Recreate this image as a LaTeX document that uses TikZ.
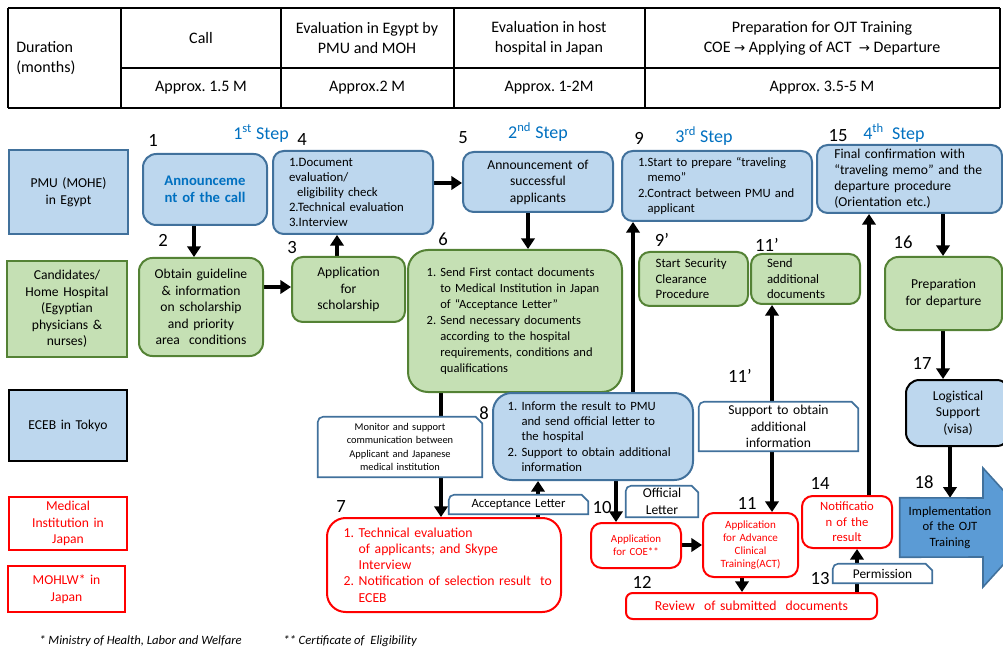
\documentclass[tikz,border=0pt]{standalone}
\usepackage{fontspec}
\setmainfont{Carlito}
\newfontfamily\symfont{DejaVu Sans}
\usetikzlibrary{arrows.meta,calc}
\definecolor{bfill}{HTML}{BDD7EE}
\definecolor{bline}{HTML}{41719C}
\definecolor{gfill}{HTML}{C5E0B4}
\definecolor{gline}{HTML}{548235}
\definecolor{stepblue}{HTML}{0070C0}
\definecolor{ojtblue}{HTML}{5B9BD5}
\pgfdeclarelayer{conn}
\pgfdeclarelayer{tagbg}
\pgfsetlayers{conn,tagbg,main}

% box from pixel corners: [pad]{style}{name}{x1}{y1}{x2}{y2}{text}
\newcommand\bx[8][4]{%
  \pgfmathsetmacro\bxw{(#6-#4)*0.75}%
  \pgfmathsetmacro\bxh{(#7-#5)*0.75}%
  \pgfmathsetmacro\bxt{\bxw-2*#1}%
  \node[#2, inner xsep=#1pt, minimum width=\bxw pt, minimum height=\bxh pt,
        text width=\bxt pt] (#3) at ({(#4+#6)/2},{(#5+#7)/2}) {#8};}

% one unbreakable text line
\newcommand\rl[1]{\mbox{#1}}

% label box with a rounded top-left and a cut top-right corner
\newcommand\tagshape[1]{%
  \draw[tagline] (#1.south west) -- ([yshift=-4pt]#1.north west)
    arc[start angle=180,end angle=90,radius=4pt]
    -- ([xshift=-5pt]#1.north east) -- ([yshift=-5pt]#1.north east)
    -- (#1.south east) -- cycle;}

\newcommand\fs[2]{\fontsize{#1}{#2}\selectfont}

\begin{document}
\frenchspacing
\begin{tikzpicture}[x=0.75pt,y=-0.75pt,
  conn/.style={line width=3pt,-{Triangle[length=8pt,width=10pt]}},
  both/.style={line width=3pt,{Triangle[length=8pt,width=10pt]}-{Triangle[length=8pt,width=10pt]}},
  tline/.style={line width=1pt,draw=black},
  ttext/.style={font=\fs{12}{15}, align=center, inner sep=0pt},
  box/.style={draw, line width=1.5pt, rounded corners=8pt, align=center,
              inner ysep=2pt, font=\fs{10.2}{12.4}},
  bluebox/.style={box, fill=bfill, draw=bline},
  greenbox/.style={box, fill=gfill, draw=gline},
  redbox/.style={box, fill=white, draw=red, text=red},
  lane/.style={draw, line width=1.5pt, align=center, font=\fs{10.2}{12.4}},
  tag/.style={align=center, inner ysep=0pt, font=\fs{9.5}{11}},
  tagline/.style={draw=bline, line width=1.2pt, fill=white},
  numlab/.style={font=\fs{14}{16}, inner sep=0pt},
  steplab/.style={font=\fs{13.5}{15}, text=stepblue, inner sep=0pt},
  foot/.style={font=\fs{9.5}{11}\itshape, inner sep=0pt, anchor=west}]
\useasboundingbox (0,0) rectangle (1003,652);
\clip (0,0) rectangle (1003,652);

% ---------- duration table ----------
\draw[tline] (121,8) -- (121,108) (281,8) -- (281,108) (454,8) -- (454,108)
  (645,8) -- (645,108) (121,68) -- (1000,68) (8,8) -- (8,108) (1000,8) -- (1000,108);
\draw[line width=1.5pt] (8,8) -- (1000,8) (8,108) -- (1000,108);
\node[ttext, align=left, anchor=west] (tdur) at (16,58) {Duration\\(months)};
\node[ttext] (tcall) at (201,38) {Call};
\node[ttext] (tegy) at (367,38) {Evaluation in Egypt by\\PMU and MOH};
\node[ttext] (tjap) at (549,38) {Evaluation in host\\hospital in Japan};
\node[ttext] (tojt) at (822,38) {Preparation for OJT Training\\COE {\symfont\fs{10}{12}→} Applying of ACT~ {\symfont\fs{10}{12}→} Departure};
\node[ttext] (dcall) at (201,88) {Approx. 1.5 M};
\node[ttext] (degy) at (367,88) {Approx.2 M};
\node[ttext] (djap) at (549,88) {Approx. 1-2M};
\node[ttext] (dojt) at (822,88) {Approx. 3.5-5 M};

% ---------- actors ----------
\bx{lane, fill=bfill, draw=bline}{lpmu}{9}{150}{128}{234}{PMU (MOHE)\\in Egypt}
\bx{lane, fill=gfill, draw=gline}{lcand}{7}{261}{127}{357}{Candidates/\\Home Hospital\\(Egyptian\\physicians \&\\nurses)}
\bx{lane, fill=bfill, draw=black, line width=2pt}{leceb}{9}{390}{127}{461}{ECEB in Tokyo}
\bx{lane, fill=white, draw=red, text=red}{lmed}{9}{498}{127}{549}{Medical\\Institution in\\Japan}
\bx{lane, fill=white, draw=red, text=red}{lmoh}{8}{566}{125}{612}{MOHLW* in\\Japan}

% ---------- step headings ----------
\node[steplab] (s1) at (261,133) {1\textsuperscript{st} Step};
\node[steplab] (s2) at (538,132) {2\textsuperscript{nd} Step};
\node[steplab] (s3) at (704,136) {3\textsuperscript{rd} Step};
\node[steplab] (s4) at (894,133) {4\textsuperscript{th}~ Step};

% ---------- process boxes ----------
\bx{bluebox, rounded corners=10pt, font=\fs{11}{12.8}\bfseries, text=stepblue}{n1}{143}{154}{267}{225}{Announceme\\nt of the call}
\bx{greenbox, rounded corners=10pt}{n2}{139}{258}{263}{356}{Obtain guideline\\\& information\\on scholarship\\and priority\\area~ conditions}
\bx{greenbox}{n3}{292}{257}{405}{322}{Application\\for\\scholarship}
\bx[12]{bluebox, align=left, font=\fs{9.6}{11.3}}{n4}{273}{151}{433}{234}{\rl{1.Document}\\\rl{evaluation/}\\\rl{\hspace*{6pt}eligibility check}\\\rl{2.Technical evaluation}\\\rl{3.Interview}}
\bx{bluebox}{n5}{463}{152}{613}{212}{Announcement of\\successful\\applicants}
\bx[14]{greenbox, rounded corners=15pt, align=left, font=\fs{9.4}{12}}{n6}{408}{250}{622}{392}{\rl{1. Send First contact documents}\\\rl{\phantom{1. }to Medical Institution in Japan}\\\rl{\phantom{1. }of “Acceptance Letter”}\\\rl{2. Send necessary documents}\\\rl{\phantom{1. }according to the hospital}\\\rl{\phantom{1. }requirements, conditions and}\\\rl{\phantom{1. }qualifications}}
\bx[12.5]{redbox, rounded corners=14pt, align=left, font=\fs{10.3}{12.2}}{n7}{327}{518}{561}{612}{\rl{1. Technical evaluation}\\\rl{\phantom{1. }of applicants; and Skype}\\\rl{\phantom{1. }Interview}\\\rl{2. Notification of selection result~ to}\\\rl{\phantom{1. }ECEB}}
\bx[11]{bluebox, rounded corners=14pt, align=left, font=\fs{9.5}{11.4}}{n8}{493}{393}{693}{480}{\rl{1. Inform the result to PMU}\\\rl{\phantom{1. }and send official letter to}\\\rl{\phantom{1. }the hospital}\\\rl{2. Support to obtain additional}\\\rl{\phantom{1. }information}}
\bx[12]{bluebox, align=left, font=\fs{9.5}{11.6}}{n9}{622}{151}{812}{221}{\rl{1.Start to prepare “traveling}\\\rl{\phantom{1.}memo”}\\\rl{2.Contract between PMU and}\\\rl{\phantom{1.}applicant}}
\bx[12.5]{greenbox, align=left, font=\fs{9.6}{11.6}}{n9p}{639}{252}{748}{306}{Start Security\\Clearance\\Procedure}
\bx[12]{greenbox, align=left, font=\fs{9.6}{11.6}}{n11p}{751}{254}{860}{304}{Send\\additional\\documents}
\bx{redbox, font=\fs{8.2}{9.8}}{n10}{591}{523}{681}{568}{Application\\for COE**}
\bx{redbox, font=\fs{8.3}{9.8}}{n11}{703}{513}{798}{577}{Application\\for Advance\\Clinical\\Training(ACT)}
\bx{redbox, rounded corners=5pt, font=\fs{10.3}{12}}{n12}{626}{593}{877}{619}{Review~ of submitted~ documents}
\bx{redbox, font=\fs{9.5}{11.6}}{n14}{802}{496}{892}{548}{Notificatio\\n of the\\result}
\bx[13]{bluebox, align=left, font=\fs{10.2}{12}}{n15}{817}{145}{1002}{213}{\rl{Final confirmation with}\\\rl{“traveling memo” and the}\\\rl{departure procedure}\\\rl{(Orientation etc.)}}
\bx{greenbox, rounded corners=10pt}{n16}{885}{257}{1002}{330}{Preparation\\for departure}
\bx{bluebox, draw=black, rounded corners=10pt}{n17}{906}{380}{1010}{446}{Logistical\\Support\\(visa)}
\bx{inner ysep=0pt, align=center, font=\fs{9.5}{11.6}}{n18}{900}{498}{1000}{557}{Implementation\\of the OJT\\Training}

% ---------- label boxes on the connectors ----------
\bx[2]{tag, font=\fs{7.8}{10}}{tmon}{318}{417}{482}{477}{Monitor and support\\communication between\\Applicant and Japanese\\medical institution}
\bx[2]{tag}{tacc}{449}{495}{588}{514}{Acceptance Letter}
\bx[2]{tag, font=\fs{10.2}{12.5}}{toff}{626}{486}{698}{517}{Official\\Letter}
\bx[2]{tag, font=\fs{10.2}{12.2}}{tsup}{699}{402}{858}{451}{Support to obtain\\additional\\information}
\bx[2]{tag, font=\fs{10}{11}}{tper}{833}{564}{932}{583}{Permission}

\begin{pgfonlayer}{tagbg}
  \tagshape{tmon}
  \tagshape{tacc}
  \tagshape{toff}
  \tagshape{tsup}
  \tagshape{tper}
  % block arrow of the final step
  \draw[fill=ojtblue, draw=bline, line width=1.2pt]
    (n18.north west) -- (983,498) -- (983,468) -- (1037,527.5) -- (983,587)
    -- (983,557) -- (n18.south west) -- cycle;
\end{pgfonlayer}

% ---------- step numbers ----------
\node[numlab] (k1) at (153,140) {1};
\node[numlab] (k2) at (163,240) {2};
\node[numlab] (k3) at (292,248) {3};
\node[numlab] (k4) at (302,140) {4};
\node[numlab] (k5) at (463,138) {5};
\node[numlab] (k6) at (443,239) {6};
\node[numlab] (k7) at (341,507) {7};
\node[numlab] (k8) at (484,413) {8};
\node[numlab] (k9) at (639,138) {9};
\node[numlab] (k9p) at (662,240) {9’};
\node[numlab] (k10) at (602,508) {10};
\node[numlab] (k11) at (747,503) {11};
\node[numlab] (k11p) at (767,245) {11’};
\node[numlab] (k11q) at (740,376) {11’};
\node[numlab] (k12) at (642,582) {12};
\node[numlab] (k13) at (820,579) {13};
\node[numlab] (k14) at (820,483) {14};
\node[numlab] (k15) at (838,136) {15};
\node[numlab] (k16) at (903,242) {16};
\node[numlab] (k17) at (922,363) {17};
\node[numlab] (k18) at (924,482) {18};

% ---------- footnotes ----------
\node[foot] (f1) at (39,641) {* Ministry of Health, Labor and Welfare};
\node[foot] (f2) at (283,641) {** Certificate of~ Eligibility};

% ---------- connectors ----------
\coordinate (x12) at (194,0);  \coordinate (y23) at (0,287);
\coordinate (x34) at (337,0);  \coordinate (y45) at (0,183);
\coordinate (x56) at (528,0);  \coordinate (x67) at (441,0);
\coordinate (x78) at (538,0);  \coordinate (x89) at (633,0);
\coordinate (x810) at (616,0); \coordinate (y1011) at (0,545);
\coordinate (x1111) at (772,0); \coordinate (x1112) at (742,0);
\coordinate (x1214) at (857,0); \coordinate (x1415) at (869,0);
\coordinate (x1516) at (943,0); \coordinate (x1718) at (950,0);
\begin{pgfonlayer}{conn}
  \draw[conn] (n1.south -| x12) -- (n2.north -| x12);
  \draw[conn] (n2.east |- y23) -- (n3.west |- y23);
  \draw[conn] (n3.north -| x34) -- (n4.south -| x34);
  \draw[conn] (n4.east |- y45) -- (n5.west |- y45);
  \draw[conn] (n5.south -| x56) -- (n6.north -| x56);
  \draw[conn] (n6.south -| x67) -- (n7.north -| x67);
  \draw[conn] (n7.north -| x78) -- (n8.south -| x78);
  \draw[conn] (n8.north -| x89) -- (n9.south -| x89);
  \draw[conn] (n8.south -| x810) -- (n10.north -| x810);
  \draw[conn] (n10.east |- y1011) -- (n11.west |- y1011);
  \draw[both] (n11p.south -| x1111) -- (n11.north -| x1111);
  \draw[conn] (n11.south -| x1112) -- (n12.north -| x1112);
  \draw[conn] (n12.north -| x1214) -- (n14.south -| x1214);
  \draw[conn] (n14.north -| x1415) -- (n15.south -| x1415);
  \draw[conn] (n15.south -| x1516) -- (n16.north -| x1516);
  \draw[conn] (n16.south -| x1516) -- (n17.north -| x1516);
  \draw[conn] (n17.south -| x1718) -- (n18.north -| x1718);
\end{pgfonlayer}
\end{tikzpicture}
\end{document}
